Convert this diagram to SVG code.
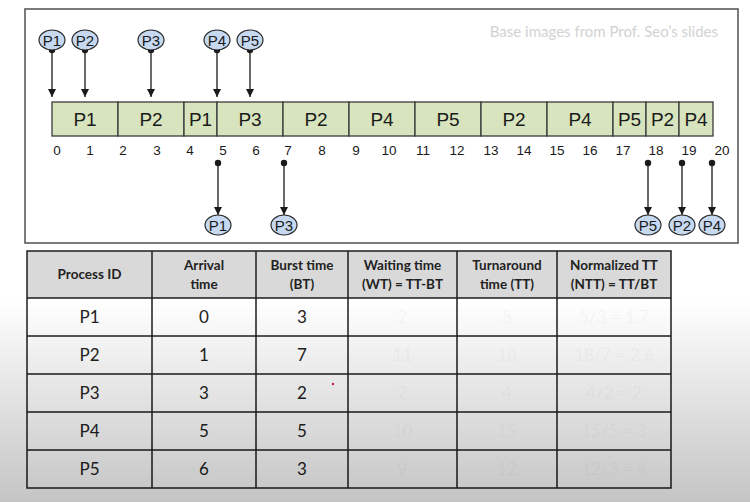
<svg xmlns="http://www.w3.org/2000/svg" width="750" height="502" viewBox="0 0 750 502">
  <style>
    .frame { fill: #ffffff; stroke: #5a5a5a; stroke-width: 1.6; }
    .seg { fill: #d7e4bd; stroke: #3a3a3a; stroke-width: 1.3; }
    .seglbl { font-family: "Liberation Sans Narrow", "Liberation Sans", Arial, sans-serif; font-size: 19px; fill: #1a1a1a; text-anchor: middle; }
    .tick { font-family: "Liberation Sans Narrow", "Liberation Sans", Arial, sans-serif; font-size: 13.5px; fill: #1a1a1a; text-anchor: middle; }
    .proc ellipse { fill: #c6d9f0; stroke: #2a2a2a; stroke-width: 1.2; }
    .proc text { font-family: "Liberation Sans Narrow", "Liberation Sans", Arial, sans-serif; font-size: 15px; fill: #1a1a1a; text-anchor: middle; }
    .conn line { stroke: #1a1a1a; stroke-width: 1.3; marker-start: url(#dot); marker-end: url(#head); }
    .note { font-family: Lato, "Open Sans", sans-serif; font-size: 15px; fill: #d2d2d2; text-anchor: end; }
    .th { fill: #d9d9d9; }
    .grid { stroke: #1e1e1e; stroke-width: 1.5; fill: none; }
    .hd { font-family: Lato, "Liberation Sans", sans-serif; font-size: 13.5px; font-weight: bold; fill: #222; text-anchor: middle; }
    .cell { font-family: Lato, "Liberation Sans", sans-serif; font-size: 17px; fill: #222; text-anchor: middle; }
    .faint { font-family: Lato, "Liberation Sans", sans-serif; font-size: 17px; fill: #000; fill-opacity: 0.05; text-anchor: middle; }
  </style>
  <defs>
    <marker id="head" markerUnits="userSpaceOnUse" markerWidth="9" markerHeight="9" refX="8" refY="4" orient="auto">
      <path d="M0,0 L8,4 L0,8 z" fill="#1a1a1a"/>
    </marker>
    <marker id="dot" markerUnits="userSpaceOnUse" markerWidth="8" markerHeight="8" refX="4" refY="4">
      <circle cx="4" cy="4" r="3.2" fill="#1a1a1a"/>
    </marker>
    <linearGradient id="shade" x1="0" y1="0" x2="0" y2="1">
      <stop offset="0" stop-color="#000" stop-opacity="0"/>
      <stop offset="1" stop-color="#000" stop-opacity="0.23"/>
    </linearGradient>
  </defs>

  <rect x="0" y="0" width="750" height="502" fill="#ffffff"/>

  <!-- Gantt chart panel -->
  <rect class="frame" x="25" y="9" width="713" height="234"/>
  <text class="note" x="718" y="37">Base images from Prof. Seo’s slides</text>

  <g id="gantt">
    <rect class="seg" x="52" y="102" width="66" height="34"/><text class="seglbl" x="85" y="126">P1</text>
    <rect class="seg" x="118" y="102" width="66" height="34"/><text class="seglbl" x="151" y="126">P2</text>
    <rect class="seg" x="184" y="102" width="33" height="34"/><text class="seglbl" x="200.5" y="126">P1</text>
    <rect class="seg" x="217" y="102" width="66" height="34"/><text class="seglbl" x="250" y="126">P3</text>
    <rect class="seg" x="283" y="102" width="66" height="34"/><text class="seglbl" x="316" y="126">P2</text>
    <rect class="seg" x="349" y="102" width="66" height="34"/><text class="seglbl" x="382" y="126">P4</text>
    <rect class="seg" x="415" y="102" width="66" height="34"/><text class="seglbl" x="448" y="126">P5</text>
    <rect class="seg" x="481" y="102" width="66" height="34"/><text class="seglbl" x="514" y="126">P2</text>
    <rect class="seg" x="547" y="102" width="66" height="34"/><text class="seglbl" x="580" y="126">P4</text>
    <rect class="seg" x="613" y="102" width="33" height="34"/><text class="seglbl" x="629.5" y="126">P5</text>
    <rect class="seg" x="646" y="102" width="33" height="34"/><text class="seglbl" x="662.5" y="126">P2</text>
    <rect class="seg" x="679" y="102" width="34" height="34"/><text class="seglbl" x="696" y="126">P4</text>
  </g>

  <g id="timeline">
    <text class="tick" x="57" y="155">0</text>
    <text class="tick" x="90" y="155">1</text>
    <text class="tick" x="123" y="155">2</text>
    <text class="tick" x="157" y="155">3</text>
    <text class="tick" x="190" y="155">4</text>
    <text class="tick" x="223" y="155">5</text>
    <text class="tick" x="256" y="155">6</text>
    <text class="tick" x="288" y="155">7</text>
    <text class="tick" x="322" y="155">8</text>
    <text class="tick" x="356" y="155">9</text>
    <text class="tick" x="389" y="155">10</text>
    <text class="tick" x="423" y="155">11</text>
    <text class="tick" x="457" y="155">12</text>
    <text class="tick" x="491" y="155">13</text>
    <text class="tick" x="524" y="155">14</text>
    <text class="tick" x="557" y="155">15</text>
    <text class="tick" x="590" y="155">16</text>
    <text class="tick" x="623" y="155">17</text>
    <text class="tick" x="656" y="155">18</text>
    <text class="tick" x="689" y="155">19</text>
    <text class="tick" x="722" y="155">20</text>
  </g>

  <!-- arrivals (top) and completions (bottom) -->
  <g id="connectors" class="conn">
    <line x1="52" y1="50" x2="52" y2="97"/>
    <line x1="85" y1="50" x2="85" y2="97"/>
    <line x1="151" y1="50" x2="151" y2="97"/>
    <line x1="217" y1="50" x2="217" y2="97"/>
    <line x1="250" y1="50" x2="250" y2="97"/>
    <line x1="218" y1="163" x2="218" y2="215"/>
    <line x1="284" y1="163" x2="284" y2="215"/>
    <line x1="648" y1="163" x2="648" y2="215"/>
    <line x1="682" y1="163" x2="682" y2="215"/>
    <line x1="712" y1="163" x2="712" y2="215"/>
  </g>

  <g id="arr-p1" class="proc"><ellipse cx="52" cy="40" rx="13" ry="10"/><text x="52" y="45.5">P1</text></g>
  <g id="arr-p2" class="proc"><ellipse cx="85" cy="40" rx="13" ry="10"/><text x="85" y="45.5">P2</text></g>
  <g id="arr-p3" class="proc"><ellipse cx="151" cy="40" rx="13" ry="10"/><text x="151" y="45.5">P3</text></g>
  <g id="arr-p4" class="proc"><ellipse cx="217" cy="40" rx="13" ry="10"/><text x="217" y="45.5">P4</text></g>
  <g id="arr-p5" class="proc"><ellipse cx="250" cy="40" rx="13" ry="10"/><text x="250" y="45.5">P5</text></g>

  <g id="done-p1" class="proc"><ellipse cx="218" cy="225" rx="13" ry="10"/><text x="218" y="230.5">P1</text></g>
  <g id="done-p3" class="proc"><ellipse cx="284" cy="225" rx="13" ry="10"/><text x="284" y="230.5">P3</text></g>
  <g id="done-p5" class="proc"><ellipse cx="648" cy="225" rx="13" ry="10"/><text x="648" y="230.5">P5</text></g>
  <g id="done-p2" class="proc"><ellipse cx="682" cy="225" rx="13" ry="10"/><text x="682" y="230.5">P2</text></g>
  <g id="done-p4" class="proc"><ellipse cx="712" cy="225" rx="13" ry="10"/><text x="712" y="230.5">P4</text></g>

  <!-- results table -->
  <g id="table">
    <rect class="th" x="27" y="251" width="644" height="47"/>
    <path class="grid" d="M27,251 H671 V488 H27 Z M27,298 H671 M27,336 H671 M27,374 H671 M27,412 H671 M27,450 H671 M152,251 V488 M256,251 V488 M348,251 V488 M457,251 V488 M557,251 V488"/>

    <text class="hd" x="89.5" y="279">Process ID</text>
    <text class="hd" x="204" y="270">Arrival</text><text class="hd" x="204" y="289">time</text>
    <text class="hd" x="302" y="270">Burst time</text><text class="hd" x="302" y="289">(BT)</text>
    <text class="hd" x="402.5" y="270">Waiting time</text><text class="hd" x="402.5" y="289">(WT) = TT-BT</text>
    <text class="hd" x="507" y="270">Turnaround</text><text class="hd" x="507" y="289">time (TT)</text>
    <text class="hd" x="614" y="270">Normalized TT</text><text class="hd" x="614" y="289">(NTT) = TT/BT</text>

    <text class="cell" x="89.5" y="323">P1</text><text class="cell" x="204" y="323">0</text><text class="cell" x="302" y="323">3</text>
    <text class="faint" x="402.5" y="323">2</text><text class="faint" x="507" y="323">5</text><text class="faint" x="614" y="323">5/3 = 1.7</text>

    <text class="cell" x="89.5" y="361">P2</text><text class="cell" x="204" y="361">1</text><text class="cell" x="302" y="361">7</text>
    <text class="faint" x="402.5" y="361">11</text><text class="faint" x="507" y="361">18</text><text class="faint" x="614" y="361">18/7 = 2.6</text>

    <text class="cell" x="89.5" y="399">P3</text><text class="cell" x="204" y="399">3</text><text class="cell" x="302" y="399">2</text>
    <text class="faint" x="402.5" y="399">2</text><text class="faint" x="507" y="399">4</text><text class="faint" x="614" y="399">4/2 = 2</text>

    <text class="cell" x="89.5" y="437">P4</text><text class="cell" x="204" y="437">5</text><text class="cell" x="302" y="437">5</text>
    <text class="faint" x="402.5" y="437">10</text><text class="faint" x="507" y="437">15</text><text class="faint" x="614" y="437">15/5 = 3</text>

    <text class="cell" x="89.5" y="475">P5</text><text class="cell" x="204" y="475">6</text><text class="cell" x="302" y="475">3</text>
    <text class="faint" x="402.5" y="475">9</text><text class="faint" x="507" y="475">12</text><text class="faint" x="614" y="475">12/3 = 4</text>
  </g>

  <circle cx="333" cy="384" r="1.2" fill="#d02040"/>

  <!-- darkening toward the bottom edge -->
  <rect x="0" y="300" width="750" height="202" fill="url(#shade)"/>
</svg>
